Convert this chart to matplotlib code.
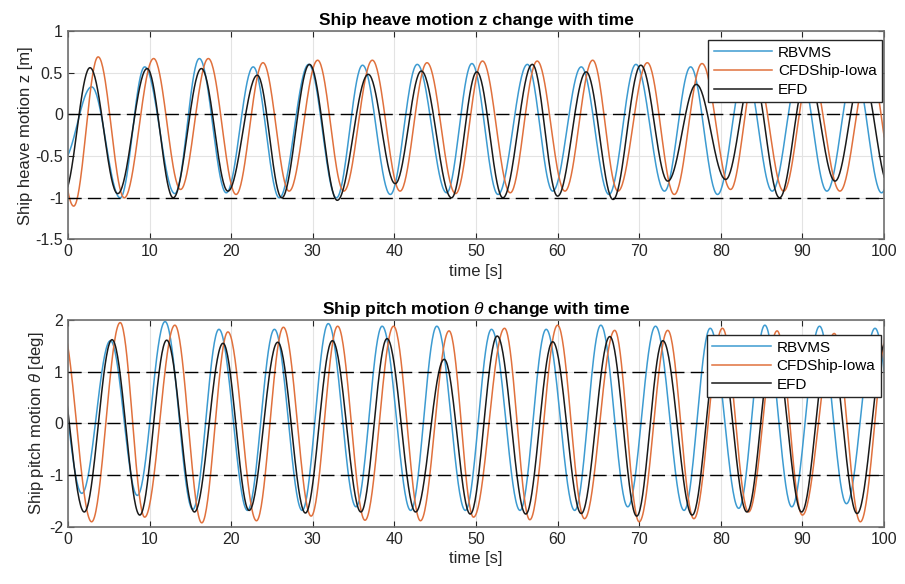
import matplotlib
matplotlib.use("Agg")
import matplotlib.pyplot as plt
import numpy as np

plt.rcParams['font.family'] = ['Liberation Sans', 'DejaVu Sans']
plt.rcParams['mathtext.fontset'] = 'custom'
plt.rcParams['mathtext.it'] = 'Liberation Sans:italic'
plt.rcParams['mathtext.bf'] = 'Liberation Sans:bold:italic'

# --- data: successive peaks / troughs (time [s], value) ---
heave_efd_t = [-0.5, 2.7, 6.1, 9.7, 12.9, 16.35, 19.6, 23.2, 26.2, 29.6, 33.0, 36.8, 40.1, 43.3, 47.0, 50.1,
               53.3, 56.9, 60.0, 63.5, 66.8, 70.2, 73.5, 77.0, 80.6, 83.9, 87.2, 90.6, 94.0, 97.3, 100.6]
heave_efd_v = [-0.95, 0.56, -0.95, 0.55, -1.0, 0.55, -0.92, 0.47, -1.0, 0.6, -1.03, 0.48, -0.83, 0.52, -1.0, 0.51,
               -1.0, 0.6, -0.98, 0.51, -1.02, 0.59, -0.8, 0.36, -0.78, 0.5, -1.0, 0.5, -0.8, 0.5, -0.85]

heave_rb_t = [-0.6, 2.9, 6.4, 9.4, 13.1, 16.1, 19.4, 22.7, 25.9, 29.5, 32.9, 36.1, 39.5, 42.8, 46.4, 49.5,
              52.7, 56.3, 59.4, 62.9, 66.3, 69.6, 73.1, 76.3, 79.6, 83.0, 86.3, 89.7, 93.0, 96.4, 99.7, 103.0]
heave_rb_v = [-0.55, 0.33, -1.0, 0.57, -0.95, 0.67, -0.94, 0.57, -1.0, 0.6, -1.0, 0.59, -0.96, 0.6, -0.94, 0.61,
              -0.96, 0.6, -0.92, 0.57, -0.96, 0.6, -0.92, 0.57, -0.96, 0.55, -0.92, 0.55, -0.92, 0.55, -0.94, 0.55]

heave_cfd_t = [-2.7, 0.7, 3.7, 6.9, 10.5, 13.8, 17.2, 20.6, 23.9, 27.1, 30.6, 33.8, 37.3, 40.7, 44.0, 47.5,
               50.8, 54.2, 57.5, 60.9, 64.3, 67.4, 71.0, 74.3, 77.7, 81.2, 84.3, 87.7, 91.0, 94.6, 98.2, 101.5]
heave_cfd_v = [0.65, -1.1, 0.69, -1.0, 0.67, -0.9, 0.67, -0.96, 0.62, -0.92, 0.65, -0.92, 0.65, -0.92, 0.62, -0.95,
               0.64, -0.94, 0.64, -0.92, 0.65, -0.92, 0.62, -0.96, 0.61, -0.9, 0.55, -0.92, 0.55, -0.92, 0.6, -0.9]

pitch_efd_t = [-1.6, 2.0, 5.4, 8.8, 12.1, 15.5, 19.0, 22.2, 25.7, 29.1, 32.4, 35.9, 39.1, 42.6, 46.1, 49.3,
               52.6, 56.1, 59.4, 62.9, 66.4, 69.7, 72.9, 76.5, 79.8, 83.2, 86.5, 89.9, 93.3, 96.7, 100.2]
pitch_efd_v = [1.6, -1.71, 1.62, -1.77, 1.61, -1.71, 1.55, -1.68, 1.57, -1.73, 1.6, -1.71, 1.64, -1.71, 1.24, -1.75,
               1.69, -1.75, 1.58, -1.74, 1.68, -1.79, 1.6, -1.77, 1.6, -1.71, 1.6, -1.71, 1.6, -1.74, 1.55]

pitch_rb_t = [-1.6, 1.7, 5.2, 8.5, 11.9, 15.3, 18.5, 22.0, 25.3, 28.7, 31.9, 35.3, 38.5, 42.0, 45.2, 48.7,
              51.9, 55.4, 58.6, 62.1, 65.3, 68.6, 72.0, 75.5, 78.7, 82.2, 85.4, 88.7, 92.1, 95.4, 98.9, 102.3]
pitch_rb_v = [1.4, -1.35, 1.6, -1.39, 1.97, -1.66, 1.82, -1.68, 1.82, -1.68, 1.93, -1.61, 1.88, -1.68, 1.88, -1.68,
              1.82, -1.68, 1.82, -1.68, 1.9, -1.61, 1.88, -1.68, 1.84, -1.64, 1.9, -1.61, 1.88, -1.55, 1.84, -1.6]

pitch_cfd_t = [-0.8, 2.9, 6.4, 9.4, 13.1, 16.4, 19.6, 23.1, 26.4, 29.8, 33.05, 36.4, 39.9, 43.2, 46.7, 49.7,
               53.5, 56.6, 60.0, 63.3, 67.0, 70.0, 73.5, 76.7, 80.2, 83.4, 86.9, 90.0, 93.9, 97.1, 100.6]
pitch_cfd_v = [1.9, -1.9, 1.95, -1.81, 1.9, -1.92, 1.77, -1.88, 1.86, -1.79, 1.88, -1.87, 1.88, -1.88, 1.79, -1.81,
               1.84, -1.86, 1.9, -1.84, 1.8, -1.9, 1.8, -1.84, 1.84, -1.71, 1.79, -1.77, 1.74, -1.9, 1.85]

labels = ['RBVMS', 'CFDShip-Iowa', 'EFD']
colors = ['#3d9bd1', '#e0713d', '#1a1a1a']


def smooth(tp, vp, n=40):
    # draw a half-cosine between each pair of read extrema
    xs, ys = [], []
    for i in range(len(tp) - 1):
        s = np.linspace(0, 1, n, endpoint=False)
        xs.append(tp[i] + (tp[i + 1] - tp[i]) * s)
        ys.append(vp[i] + (vp[i + 1] - vp[i]) * (1 - np.cos(np.pi * s)) / 2)
    xs.append([tp[-1]])
    ys.append([vp[-1]])
    return np.concatenate(xs), np.concatenate(ys)


fig = plt.figure(figsize=(9.05, 5.84), dpi=100)
ax1 = fig.add_axes([0.0751, 0.5899, 0.9017, 0.357])
ax2 = fig.add_axes([0.0751, 0.0976, 0.9017, 0.3545])

panels = [
    (ax1, [(heave_rb_t, heave_rb_v), (heave_cfd_t, heave_cfd_v), (heave_efd_t, heave_efd_v)],
     (-1.5, 1), [-1.5, -1, -0.5, 0, 0.5, 1], [0, -1],
     'Ship heave motion z change with time', 'Ship heave motion z [m]', (0.9975, 0.955)),
    (ax2, [(pitch_rb_t, pitch_rb_v), (pitch_cfd_t, pitch_cfd_v), (pitch_efd_t, pitch_efd_v)],
     (-2, 2), [-2, -1, 0, 1, 2], [1, 0, -1],
     r'Ship pitch motion $\theta$ change with time', r'Ship pitch motion $\theta$ [deg]', (0.996, 0.926)),
]

for ax, series, ylim, yt, refs, title, ylab, anchor in panels:
    handles = []
    for (tp, vp), lab, c in zip(series, labels, colors):
        x, y = smooth(tp, vp)
        h, = ax.plot(x, y, color=c, lw=1.1, label=lab)
        handles.append(h)
    for r in refs:
        ax.axhline(r, color='black', lw=1.0, ls=(0, (9.5, 4.5)), zorder=3)
    ax.set_xlim(0, 100)
    ax.set_ylim(*ylim)
    ax.set_xticks(np.arange(0, 101, 10))
    ax.set_yticks(yt)
    ax.set_yticklabels(['%g' % v for v in yt])
    ax.grid(True, color='#e3e3e3', lw=0.8)
    ax.set_axisbelow(True)
    ax.tick_params(direction='in', length=4, top=True, right=True, labelsize=11.5,
                   colors='#262626', width=0.8)
    for sp in ax.spines.values():
        sp.set_color('#707070')
        sp.set_linewidth(1.2)
    ax.set_title(title, fontsize=12.5, fontweight='bold', pad=4)
    ax.set_xlabel('time [s]', fontsize=12, color='#262626', labelpad=3)
    ax.set_ylabel(ylab, fontsize=12, color='#262626', labelpad=2)
    leg = ax.legend(handles=handles, loc='upper right', bbox_to_anchor=anchor, fontsize=11,
                    fancybox=False, framealpha=1, edgecolor='#262626', handlelength=3.8,
                    labelspacing=0.3, borderpad=0.35, handletextpad=0.4, borderaxespad=0)
    leg.get_frame().set_linewidth(1.0)

fig.savefig('out.png', dpi=100)
